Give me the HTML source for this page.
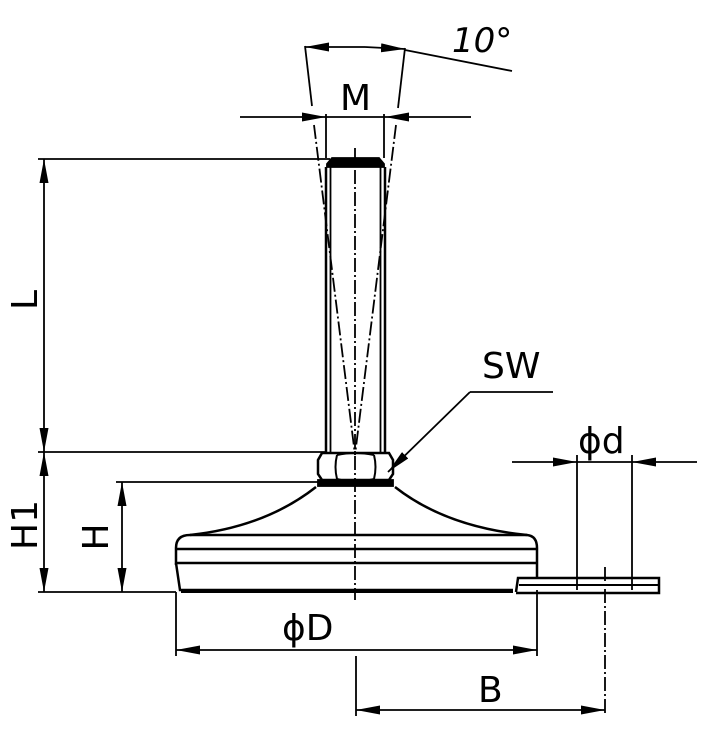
<!DOCTYPE html>
<html><head><style>body{margin:0;background:#fff}svg{display:block}</style></head>
<body>
<svg width="708" height="729" viewBox="0 0 708 729" xmlns="http://www.w3.org/2000/svg" font-family="'DejaVu Sans','Liberation Sans',sans-serif">
<defs>
<marker id="a" viewBox="0 0 24 9" refX="24" refY="4.5" markerWidth="24" markerHeight="9" markerUnits="userSpaceOnUse" orient="auto"><path d="M0,0L24,4.5L0,9z" fill="#000"/></marker>
</defs>
<g stroke="#000" fill="none" stroke-width="1.8">
<line x1="355" y1="148" x2="355" y2="600" stroke-dasharray="14,3,2,3"/>
<line x1="605" y1="567" x2="605" y2="715" stroke-dasharray="14,3,2,3"/>
<line x1="326" y1="167" x2="326" y2="452" stroke-width="2.5"/>
<line x1="385" y1="167" x2="385" y2="452" stroke-width="2.5"/>
<line x1="330.5" y1="167" x2="330.5" y2="452"/>
<line x1="380.5" y1="167" x2="380.5" y2="452"/>
<path d="M327,167 L327,164 L332,158 L379,158 L384,164 L384,167 Z" fill="#000"/>
<line x1="305" y1="46" x2="312" y2="106"/>
<line x1="405" y1="48" x2="398" y2="108"/>
<line x1="314" y1="125" x2="355" y2="455" stroke-dasharray="14,3,2,3"/>
<line x1="396" y1="125" x2="355" y2="455" stroke-dasharray="14,3,2,3"/>
<line x1="345" y1="47" x2="305" y2="47" marker-end="url(#a)"/>
<line x1="365" y1="47" x2="405" y2="49" marker-end="url(#a)"/>
<line x1="345" y1="47" x2="365" y2="47"/>
<line x1="405" y1="50" x2="512" y2="71"/>
<line x1="240" y1="117" x2="326" y2="117" marker-end="url(#a)"/>
<line x1="471" y1="117" x2="385" y2="117" marker-end="url(#a)"/>
<line x1="326" y1="117" x2="385" y2="117"/>
<line x1="326" y1="114" x2="326" y2="158"/>
<line x1="384" y1="114" x2="384" y2="158"/>
<line x1="38" y1="159" x2="330" y2="159"/>
<line x1="38" y1="452" x2="326" y2="452"/>
<line x1="44" y1="300" x2="44" y2="159" marker-end="url(#a)"/>
<line x1="44" y1="300" x2="44" y2="452" marker-end="url(#a)"/>
<line x1="44" y1="520" x2="44" y2="452" marker-end="url(#a)"/>
<line x1="44" y1="520" x2="44" y2="592" marker-end="url(#a)"/>
<line x1="38" y1="592" x2="176" y2="592"/>
<line x1="116" y1="482" x2="320" y2="482"/>
<line x1="122" y1="540" x2="122" y2="482" marker-end="url(#a)"/>
<line x1="122" y1="540" x2="122" y2="592" marker-end="url(#a)"/>
<path d="M322,453 L389,453 L393,460 L393,474 L389,480 L322,480 L318,474 L318,460 Z" stroke-width="2.5"/>
<path d="M337,455 Q334,467 337,479 M374,455 Q377,467 374,479 M337,455 Q355,451 374,455 M337,479 Q355,484 374,479" stroke-width="2"/>
<rect x="318" y="480" width="75" height="6" fill="#000"/>
<path d="M316,487 Q265,527 190,535" stroke-width="2.5"/>
<path d="M395,487 Q446,527 527,535" stroke-width="2.5"/>
<path d="M190,535 L527,535 Q537,536 537,548 L537,578 M176,565 L176,548 Q176,535 190,535" stroke-width="2.5"/>
<line x1="176" y1="549" x2="537" y2="549" stroke-width="2.5"/>
<line x1="176" y1="563" x2="537" y2="563" stroke-width="2.5"/>
<path d="M176,563 L180,590 L513,590" stroke-width="2.5"/>
<line x1="181" y1="592" x2="513" y2="592" stroke-width="2"/>
<path d="M516,592 L518,578 L659,578 L659,593 L516,593" stroke-width="2.5"/>
<line x1="519" y1="585" x2="659" y2="585" stroke-width="2"/>
<line x1="577" y1="455" x2="577" y2="590"/>
<line x1="632" y1="455" x2="632" y2="590"/>
<line x1="512" y1="462" x2="577" y2="462" marker-end="url(#a)"/>
<line x1="697" y1="462" x2="632" y2="462" marker-end="url(#a)"/>
<line x1="577" y1="462" x2="632" y2="462"/>
<line x1="176" y1="592" x2="176" y2="656"/>
<line x1="537" y1="590" x2="537" y2="656"/>
<line x1="356" y1="650" x2="176" y2="650" marker-end="url(#a)"/>
<line x1="356" y1="650" x2="537" y2="650" marker-end="url(#a)"/>
<line x1="356" y1="656" x2="356" y2="716"/>
<line x1="480" y1="710" x2="356" y2="710" marker-end="url(#a)"/>
<line x1="480" y1="710" x2="605" y2="710" marker-end="url(#a)"/>
<line x1="470" y1="392" x2="553" y2="392"/>
<line x1="470" y1="392" x2="388" y2="472" marker-end="url(#a)"/>
</g>
<g fill="#000" font-size="36">
<text x="340" y="110">M</text>
<text x="452" y="52" font-style="italic" font-size="34">10°</text>
<text x="482" y="378">SW</text>
<text x="578" y="453">ϕd</text>
<text x="282" y="640">ϕD</text>
<text x="478" y="702">B</text>
<text transform="translate(37,300) rotate(-90)" text-anchor="middle">L</text>
<text transform="translate(37,525) rotate(-90)" text-anchor="middle">H1</text>
<text transform="translate(108,537) rotate(-90)" text-anchor="middle">H</text>
</g>
</svg>
</body></html>
